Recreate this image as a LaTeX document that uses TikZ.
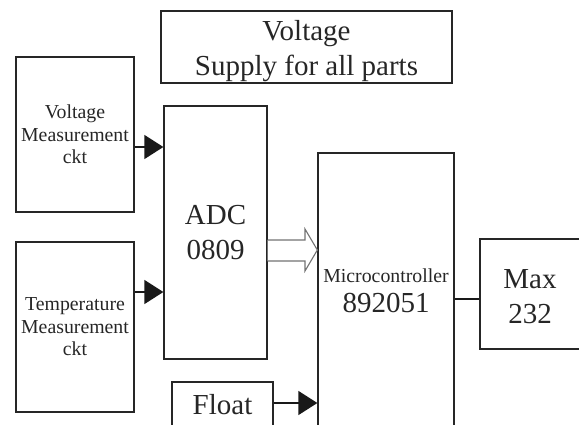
\documentclass[tikz,border=0pt]{standalone}
\usepackage{fontspec}
\setmainfont{Liberation Serif}
\usetikzlibrary{arrows.meta,calc}
\tikzset{
  box/.style={draw=black!85, line width=1.3pt, rectangle, inner sep=0pt, align=center, text=black!85},
  lbl/.style={inner sep=0pt, align=center, text=black!85},
  big/.style={font=\fontsize{29}{35}\selectfont},
  small/.style={font=\fontsize{19.8}{22.5}\selectfont},
  arr/.style={draw=black!90, line width=1.3pt, -{Triangle[length=19pt,width=24pt]}},
  link/.style={draw=black!90, line width=1.3pt},
  bus/.style={draw=black!55, line width=1.1pt, fill=white, line join=miter}
}
\begin{document}
\begin{tikzpicture}[x=1pt,y=-1pt]
\useasboundingbox (0,0) rectangle (579,424);
\clip (0,0) rectangle (579,424);
% boxes
\node[box, minimum width=291pt, minimum height=72pt] (sup) at (306.5,47) {};
\node[lbl, big] (suptext) at (306.5,51) {Voltage\\Supply for all parts};
\node[box, small, minimum width=118pt, minimum height=155pt] (vm) at (75,134.5) {Voltage\\Measurement\\ckt};
\node[box, small, minimum width=118pt, minimum height=170pt] (tm) at (75,327) {Temperature\\Measurement\\ckt};
\node[box, big, minimum width=103pt, minimum height=253pt] (adc) at (215.5,232.5) {ADC\\0809};
\node[box, minimum width=136pt, minimum height=276pt] (mc) at (386,291) {{\fontsize{19.8}{22.5}\selectfont Microcontroller}\\[9pt]{\fontsize{29}{30}\selectfont 892051}};
\node[box, minimum width=100pt, minimum height=110pt] (max) at (530,294) {};
\node[lbl, big] (maxtext) at (530,297) {Max\\232};
\node[box, big, minimum width=101pt, minimum height=46pt] (fl) at (222.5,405) {Float};
% connectors
\draw[arr] (vm.east |- 0,147) -- (adc.west |- 0,147);
\draw[arr] (tm.east |- 0,292) -- (adc.west |- 0,292);
\draw[arr] (fl.east |- 0,403) -- (mc.west |- 0,403);
\draw[link] (mc.east |- 0,299) -- (max.west |- 0,299);
\draw[bus] (adc.east |- 0,240) -- (305,240) -- (305,229) -- (mc.west |- 0,250) -- (305,271) -- (305,261) -- (adc.east |- 0,261);
\end{tikzpicture}
\end{document}
